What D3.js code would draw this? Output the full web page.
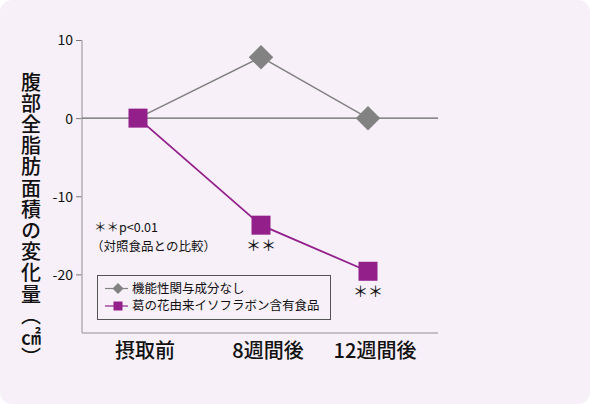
<!DOCTYPE html>
<html>
<head>
<meta charset="utf-8">
<script src="https://cdn.jsdelivr.net/npm/d3@7"></script>
<style>
  html, body { margin: 0; padding: 0; background: #fff; }
  svg text { font-family: "Noto Sans CJK JP", "Noto Sans", sans-serif; fill: #111; }
</style>
</head>
<body>
<div id="chart"></div>
<script>
const categories = ['摂取前', '8週間後', '12週間後'];
const controlValues = [0, 7.8, 0];
const isoflavoneValues = [0, -13.7, -19.6];
const seriesNames = ['機能性関与成分なし', '葛の花由来イソフラボン含有食品'];
const significance = ['', '＊＊', '＊＊'];
const yTicks = [10, 0, -10, -20];

const width = 590;
const height = 404;
const purple = '#931f8b';
const grey = '#828282';

const svg = d3.select('#chart')
  .append('svg')
    .attr('width', width)
    .attr('height', height);

svg.append('rect')
  .attr('x', 0)
  .attr('y', 0)
  .attr('width', width)
  .attr('height', height)
  .attr('rx', 12)
  .attr('fill', '#f7f0f8');

// uneven spacing as in the original layout
const x = d3.scaleOrdinal().domain(categories).range([138, 261, 368]);
const y = d3.scaleLinear().domain([-27.5, 10]).range([333, 40]);

const left = 82;
const right = 438;

// y axis
const yAxis = svg.append('g')
  .attr('transform', `translate(${left},0)`)
  .call(d3.axisLeft(y).tickValues(yTicks).tickSize(6).tickPadding(3).tickFormat((d) => String(d)));
yAxis.select('.domain').remove();
yAxis.selectAll('.tick line').attr('stroke', '#777');
yAxis.selectAll('.tick text')
  .attr('font-size', 14)
  .attr('fill', '#111')
  .attr('dy', '0.35em');

svg.append('line')
  .attr('x1', left).attr('x2', left)
  .attr('y1', y(10)).attr('y2', y(-27.5))
  .attr('stroke', '#b5aeb6')
  .attr('stroke-width', 1.5);

svg.append('line')
  .attr('x1', left).attr('x2', right)
  .attr('y1', y(-27.5)).attr('y2', y(-27.5))
  .attr('stroke', '#b5aeb6')
  .attr('stroke-width', 1.5);

// zero line
svg.append('line')
  .attr('x1', left).attr('x2', right)
  .attr('y1', y(0)).attr('y2', y(0))
  .attr('stroke', '#666')
  .attr('stroke-width', 1.3);

// category labels
svg.append('g')
  .selectAll('text')
  .data(categories)
  .enter()
  .append('text')
    .attr('x', (d) => x(d) + 7)
    .attr('y', 358)
    .attr('text-anchor', 'middle')
    .attr('font-size', 20)
    .attr('font-weight', 500)
    .text((d) => d);

// y axis title, written vertically
svg.append('text')
  .attr('x', 31)
  .attr('y', 72)
  .attr('writing-mode', 'vertical-rl')
  .attr('font-size', 20)
  .attr('font-weight', 500)
  .attr('letter-spacing', 1.2)
  .text('腹部全脂肪面積の変化量（㎠）');

const line = d3.line()
  .x((d, i) => x(categories[i]))
  .y((d) => y(d));

svg.append('path')
  .datum(controlValues)
  .attr('d', line)
  .attr('fill', 'none')
  .attr('stroke', grey)
  .attr('stroke-width', 1.5);

svg.append('path')
  .datum(isoflavoneValues)
  .attr('d', line)
  .attr('fill', 'none')
  .attr('stroke', purple)
  .attr('stroke-width', 1.8);

const diamond = d3.symbol().type(d3.symbolSquare).size(300);

// the first diamond sits hidden under the purple square in the original
svg.append('g')
  .selectAll('path')
  .data(controlValues.map((v, i) => ({ v, i })).filter((d) => d.i > 0))
  .enter()
  .append('path')
    .attr('d', diamond)
    .attr('transform', (d) => `translate(${x(categories[d.i])},${y(d.v)}) rotate(45)`)
    .attr('fill', grey);

svg.append('g')
  .selectAll('rect')
  .data(isoflavoneValues)
  .enter()
  .append('rect')
    .attr('x', (d, i) => x(categories[i]) - 9.5)
    .attr('y', (d) => y(d) - 9.5)
    .attr('width', 19)
    .attr('height', 19)
    .attr('fill', purple);

svg.append('g')
  .selectAll('text')
  .data(isoflavoneValues)
  .enter()
  .append('text')
    .attr('x', (d, i) => x(categories[i]))
    .attr('y', (d) => y(d) + 26)
    .attr('text-anchor', 'middle')
    .attr('font-size', 15)
    .text((d, i) => significance[i]);

// note
const note = svg.append('g').attr('font-size', 12.5);
note.append('text').attr('x', 94).attr('y', 232).text('＊＊p<0.01');
note.append('text').attr('x', 91).attr('y', 251).text('（対照食品との比較）');

// legend
const legend = svg.append('g').attr('transform', 'translate(97,275)');
legend.append('rect')
  .attr('x', 0.5).attr('y', 0.5)
  .attr('width', 233).attr('height', 44)
  .attr('fill', 'none')
  .attr('stroke', '#555')
  .attr('stroke-width', 1);

const legendColors = [grey, purple];
const item = legend.selectAll('g.item')
  .data(seriesNames)
  .enter()
  .append('g')
    .attr('class', 'item')
    .attr('transform', (d, i) => `translate(0,${13.5 + i * 17.5})`);

item.append('line')
  .attr('x1', 8).attr('x2', 31)
  .attr('y1', 0).attr('y2', 0)
  .attr('stroke', (d, i) => legendColors[i])
  .attr('stroke-width', 1.2);

item.filter((d, i) => i === 0).append('path')
  .attr('d', d3.symbol().type(d3.symbolSquare).size(60))
  .attr('transform', 'translate(21,0) rotate(45)')
  .attr('fill', grey);

item.filter((d, i) => i === 1).append('rect')
  .attr('x', 16.5).attr('y', -4.5)
  .attr('width', 9).attr('height', 9)
  .attr('fill', purple);

item.append('text')
  .attr('x', 35)
  .attr('y', 0)
  .attr('dy', '0.35em')
  .attr('font-size', 12.5)
  .text((d) => d);
</script>
</body>
</html>
